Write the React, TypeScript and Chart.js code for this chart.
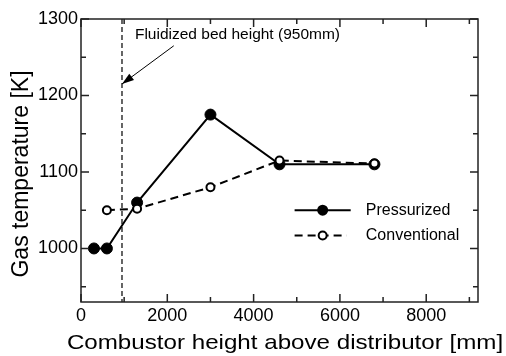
import { useEffect, useRef } from "react";
import { Chart, registerables } from "chart.js";

Chart.register(...registerables);

const pressurizedX = [300, 600, 1300, 3000, 4600, 6800];
const pressurizedY = [1000, 1000, 1060, 1175, 1110, 1110];
const conventionalX = [600, 1300, 3000, 4600, 6800];
const conventionalY = [1050, 1052, 1080, 1115, 1111];
const seriesNames = ["Pressurized", "Conventional"];
const xTicks = [0, 2000, 4000, 6000, 8000];
const xMinorTicks = [1000, 3000, 5000, 7000, 9000];
const yTicks = [1000, 1100, 1200, 1300];
const yMinorTicks = [950, 1050, 1150, 1250];
const xRange = [0, 9200];
const yRange = [930, 1300];
const bedHeight = 950;
const annotationText = "Fluidized bed height (950mm)";
const xTitle = "Combustor height above distributor [mm]";
const yTitle = "Gas temperature [K]";

const FONT = "'Liberation Sans', Arial, sans-serif";

function drawStretched(ctx: CanvasRenderingContext2D, text: string, x: number, y: number, size: number, sx: number, align: CanvasTextAlign) {
  ctx.save();
  ctx.translate(x, y);
  ctx.scale(sx, 1);
  ctx.font = `${size}px ${FONT}`;
  ctx.textAlign = align;
  ctx.textBaseline = "middle";
  ctx.fillStyle = "#000";
  ctx.fillText(text, 0, 0);
  ctx.restore();
}

const overlay = {
  id: "overlay",
  beforeDatasetsDraw(chart: any) {
    const { ctx, chartArea: a, scales } = chart;
    const px = scales.x.getPixelForValue(bedHeight);
    ctx.save();
    ctx.strokeStyle = "#333";
    ctx.lineWidth = 1.5;
    ctx.setLineDash([5, 3]);
    ctx.beginPath();
    ctx.moveTo(px, a.top);
    ctx.lineTo(px, a.bottom);
    ctx.stroke();
    ctx.restore();
  },
  afterDraw(chart: any) {
    const { ctx, chartArea: a, scales } = chart;
    const x = scales.x;
    const y = scales.y;
    ctx.save();
    ctx.strokeStyle = "#222";
    ctx.lineWidth = 1.5;
    ctx.setLineDash([]);
    ctx.strokeRect(a.left, a.top, a.right - a.left, a.bottom - a.top);
    ctx.beginPath();
    const tickX = (v: number, len: number) => {
      const p = x.getPixelForValue(v);
      ctx.moveTo(p, a.bottom);
      ctx.lineTo(p, a.bottom - len);
      ctx.moveTo(p, a.top);
      ctx.lineTo(p, a.top + len);
    };
    const tickY = (v: number, len: number) => {
      const p = y.getPixelForValue(v);
      ctx.moveTo(a.left, p);
      ctx.lineTo(a.left + len, p);
      ctx.moveTo(a.right, p);
      ctx.lineTo(a.right - len, p);
    };
    xTicks.forEach((v) => tickX(v, 8));
    xMinorTicks.forEach((v) => tickX(v, 5));
    yTicks.forEach((v) => tickY(v, 8));
    yMinorTicks.forEach((v) => tickY(v, 5));
    ctx.stroke();

    // arrow
    const hx = x.getPixelForValue(bedHeight);
    const hy = y.getPixelForValue(1215);
    const tx = x.getPixelForValue(2150);
    const ty = y.getPixelForValue(1265);
    ctx.strokeStyle = "#000";
    ctx.lineWidth = 1;
    ctx.beginPath();
    ctx.moveTo(tx, ty);
    ctx.lineTo(hx, hy);
    ctx.stroke();
    const ang = Math.atan2(hy - ty, hx - tx);
    const L = 12, W = 4;
    ctx.beginPath();
    ctx.moveTo(hx, hy);
    ctx.lineTo(hx - L * Math.cos(ang) + W * Math.sin(ang), hy - L * Math.sin(ang) - W * Math.cos(ang));
    ctx.lineTo(hx - L * Math.cos(ang) - W * Math.sin(ang), hy - L * Math.sin(ang) + W * Math.cos(ang));
    ctx.closePath();
    ctx.fillStyle = "#000";
    ctx.fill();

    drawStretched(ctx, annotationText, x.getPixelForValue(1250), y.getPixelForValue(1280), 15.5, 1.0, "left");

    // legend
    const lx0 = x.getPixelForValue(4950);
    const lx1 = x.getPixelForValue(6250);
    const lxm = x.getPixelForValue(5600);
    const ltx = x.getPixelForValue(6600);
    const ly1 = y.getPixelForValue(1050);
    const ly2 = y.getPixelForValue(1017);
    ctx.lineWidth = 2;
    ctx.strokeStyle = "#000";
    ctx.beginPath();
    ctx.moveTo(lx0, ly1);
    ctx.lineTo(lx1, ly1);
    ctx.stroke();
    ctx.beginPath();
    ctx.arc(lxm, ly1, 5.5, 0, Math.PI * 2);
    ctx.fillStyle = "#000";
    ctx.fill();
    ctx.setLineDash([8, 5]);
    ctx.beginPath();
    ctx.moveTo(lx0, ly2);
    ctx.lineTo(lx1 - 4, ly2);
    ctx.stroke();
    ctx.setLineDash([]);
    ctx.beginPath();
    ctx.arc(lxm, ly2, 4, 0, Math.PI * 2);
    ctx.fillStyle = "#fff";
    ctx.fill();
    ctx.stroke();
    drawStretched(ctx, seriesNames[0], ltx, ly1, 16, 1.0, "left");
    drawStretched(ctx, seriesNames[1], ltx, ly2, 16, 1.0, "left");

    // axis titles
    drawStretched(ctx, xTitle, 285, 343, 21, 1.15, "center");
    ctx.save();
    ctx.translate(22, 174);
    ctx.rotate(-Math.PI / 2);
    ctx.font = `23px ${FONT}`;
    ctx.textAlign = "center";
    ctx.textBaseline = "middle";
    ctx.fillStyle = "#000";
    ctx.fillText(yTitle, 0, 0);
    ctx.restore();
    ctx.restore();
  },
};

export default function App() {
  const ref = useRef<HTMLCanvasElement>(null);
  useEffect(() => {
    document.body.style.margin = "0";
    const canvas = ref.current!;
    const chart = new Chart(canvas, {
      type: "line",
      data: {
        datasets: [
          {
            label: seriesNames[1],
            data: conventionalX.map((v, i) => ({ x: v, y: conventionalY[i] })),
            borderColor: "#000",
            borderWidth: 2,
            borderDash: [8, 5],
            pointRadius: 4,
            pointBackgroundColor: "#fff",
            pointBorderColor: "#000",
            pointBorderWidth: 2,
            tension: 0,
          },
          {
            label: seriesNames[0],
            data: pressurizedX.map((v, i) => ({ x: v, y: pressurizedY[i] })),
            borderColor: "#000",
            borderWidth: 2,
            pointRadius: 5.5,
            pointBackgroundColor: "#000",
            pointBorderColor: "#000",
            pointBorderWidth: 1,
            tension: 0,
          },
        ],
      },
      options: {
        animation: false,
        responsive: true,
        maintainAspectRatio: false,
        layout: { padding: { top: 19, right: 28, left: 0, bottom: 0 } },
        plugins: { legend: { display: false }, tooltip: { enabled: false } },
        scales: {
          x: {
            type: "linear",
            min: xRange[0],
            max: xRange[1],
            grid: { display: false, drawTicks: false },
            border: { display: false },
            ticks: {
              color: "#000",
              padding: 3,
              maxRotation: 0,
              font: { family: FONT, size: 18 },
              callback: (v: any) => String(v),
            },
            afterBuildTicks: (s: any) => {
              s.ticks = xTicks.map((v) => ({ value: v }));
            },
            afterFit: (s: any) => {
              s.height = 54;
            },
          },
          y: {
            type: "linear",
            min: yRange[0],
            max: yRange[1],
            grid: { display: false, drawTicks: false },
            border: { display: false },
            ticks: {
              color: "#000",
              padding: 3,
              font: { family: FONT, size: 18 },
              callback: (v: any) => String(v),
            },
            afterBuildTicks: (s: any) => {
              s.ticks = yTicks.map((v) => ({ value: v }));
            },
            afterFit: (s: any) => {
              s.width = 81;
            },
          },
        },
      },
      plugins: [overlay],
    });
    return () => chart.destroy();
  }, []);
  return (
    <div style={{ width: 506, height: 356, position: "relative" }}>
      <canvas ref={ref} />
    </div>
  );
}
